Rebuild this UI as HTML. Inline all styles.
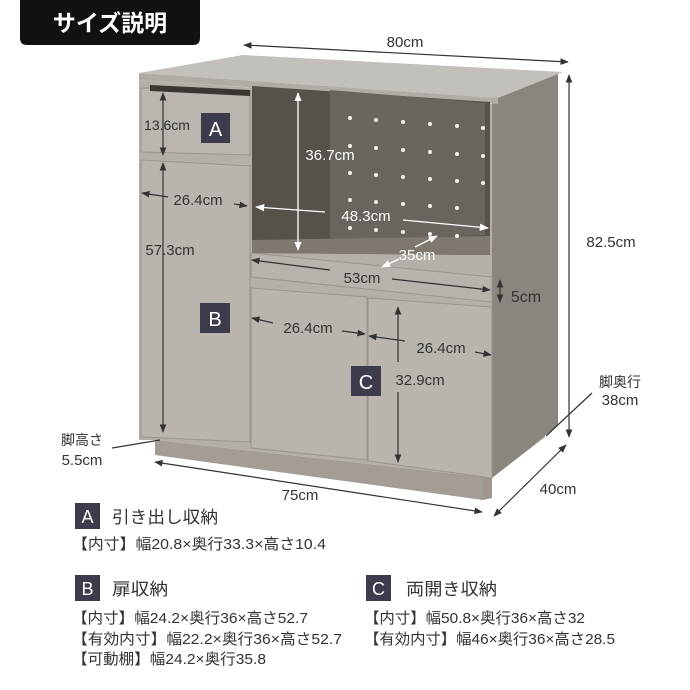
<!DOCTYPE html>
<html><head><meta charset="utf-8"><style>
body{margin:0;background:#fff;}
svg{display:block;font-family:"Liberation Sans","Noto Sans CJK JP",sans-serif;}
</style></head><body>
<svg width="690" height="690" viewBox="0 0 690 690" xmlns="http://www.w3.org/2000/svg">
<defs>
<marker id="ar" viewBox="0 0 10 10" refX="9" refY="5" markerWidth="7" markerHeight="7" orient="auto-start-reverse"><path d="M0,1 L10,5 L0,9 z" fill="#333"/></marker>
<marker id="aw" viewBox="0 0 10 10" refX="9" refY="5" markerWidth="7" markerHeight="7" orient="auto-start-reverse"><path d="M0,1 L10,5 L0,9 z" fill="#fff"/></marker>
</defs>
<path d="M20,0 H200 V38 Q200,45 193,45 H27 Q20,45 20,38 Z" fill="#111"/>
<text x="110" y="31" fill="#fff" font-size="23" font-weight="bold" text-anchor="middle">サイズ説明</text>

<polygon points="155,440 492,478 545,437 545,425 492,470 492,498 483,500 155,452" fill="#9d978f"/>
<polygon points="155,440 483,478 483,500 155,455" fill="#a39d96"/>
<polygon points="492,98 558,73 558,425 492,478" fill="#8b857f"/>
<polygon points="139,73 243,55 563,72 498,98" fill="#c3bfba"/>
<polygon points="139,73 498,98 498,104 139,80" fill="#b0aba5"/>
<polygon points="139,80 492,104 492,478 155,440 139,440" fill="#b4afa9"/>
<polygon points="252,86 490,102 490,255 252,253" fill="#57514b"/>
<polygon points="330,90 485,103 485,235 330,240" fill="#6a645e"/>
<polygon points="252,240 490,236 490,255 252,253" fill="#7e7871"/>
<g fill="#eee">
<circle cx="350" cy="118" r="2"/><circle cx="376" cy="120" r="2"/><circle cx="403" cy="122" r="2"/><circle cx="430" cy="124" r="2"/><circle cx="457" cy="126" r="2"/><circle cx="483" cy="128" r="2"/>
<circle cx="350" cy="146" r="2"/><circle cx="376" cy="148" r="2"/><circle cx="403" cy="150" r="2"/><circle cx="430" cy="152" r="2"/><circle cx="457" cy="154" r="2"/><circle cx="483" cy="156" r="2"/>
<circle cx="350" cy="173" r="2"/><circle cx="376" cy="175" r="2"/><circle cx="403" cy="177" r="2"/><circle cx="430" cy="179" r="2"/><circle cx="457" cy="181" r="2"/><circle cx="483" cy="183" r="2"/>
<circle cx="350" cy="200" r="2"/><circle cx="376" cy="202" r="2"/><circle cx="403" cy="204" r="2"/><circle cx="430" cy="206" r="2"/><circle cx="457" cy="208" r="2"/>
<circle cx="350" cy="228" r="2"/><circle cx="376" cy="230" r="2"/><circle cx="403" cy="232" r="2"/><circle cx="430" cy="234" r="2"/><circle cx="457" cy="236" r="2"/>
</g>
<polygon points="141,88 250,91 250,155 141,152" fill="#bab5af" stroke="#9a958f" stroke-width="1"/>
<polygon points="150,85 250,90 250,96 150,91" fill="#3a3632"/>
<polygon points="141,160 250,166 250,442 141,437" fill="#b9b4ae" stroke="#9a958f" stroke-width="1"/>
<polygon points="251,253 492,277 492,302 251,277" fill="#b7b2ac" stroke="#9a958f" stroke-width="1"/>
<polygon points="251,288 367,297 367,460 251,448" fill="#b9b4ae" stroke="#9a958f" stroke-width="1"/>
<polygon points="368,298 492,307 492,478 368,461" fill="#b9b4ae" stroke="#9a958f" stroke-width="1"/>

<rect x="201" y="113" width="29" height="30" fill="#3d3c4c"/><text x="215.5" y="136" fill="#fff" font-size="20" text-anchor="middle">A</text>
<rect x="200" y="303" width="30" height="30" fill="#3d3c4c"/><text x="215" y="326" fill="#fff" font-size="20" text-anchor="middle">B</text>
<rect x="351" y="366" width="30" height="30" fill="#3d3c4c"/><text x="366" y="389" fill="#fff" font-size="20" text-anchor="middle">C</text>

<g stroke="#333" stroke-width="1.2" fill="none">
<line x1="244" y1="45" x2="568" y2="62" marker-start="url(#ar)" marker-end="url(#ar)"/>
<line x1="569" y1="75" x2="569" y2="437" marker-start="url(#ar)" marker-end="url(#ar)"/>
<line x1="163" y1="93" x2="163" y2="155" marker-start="url(#ar)" marker-end="url(#ar)"/>
<line x1="163" y1="163" x2="163" y2="432" marker-start="url(#ar)" marker-end="url(#ar)"/>
<line x1="142" y1="193" x2="168" y2="197" marker-start="url(#ar)"/>
<line x1="234" y1="204" x2="247" y2="206" marker-end="url(#ar)"/>
<line x1="252" y1="260" x2="330" y2="270" marker-start="url(#ar)"/>
<line x1="392" y1="279" x2="490" y2="290" marker-end="url(#ar)"/>
<line x1="500" y1="280" x2="500" y2="302" marker-start="url(#ar)" marker-end="url(#ar)"/>
<line x1="252" y1="318" x2="273" y2="323" marker-start="url(#ar)"/>
<line x1="342" y1="331" x2="365" y2="334" marker-end="url(#ar)"/>
<line x1="369" y1="336" x2="405" y2="341" marker-start="url(#ar)"/>
<line x1="475" y1="352" x2="491" y2="355" marker-end="url(#ar)"/>
<line x1="398" y1="307" x2="398" y2="362" marker-start="url(#ar)"/>
<line x1="398" y1="392" x2="398" y2="462" marker-end="url(#ar)"/>
<line x1="155" y1="462" x2="482" y2="512" marker-start="url(#ar)" marker-end="url(#ar)"/>
<line x1="566" y1="445" x2="494" y2="516" marker-start="url(#ar)" marker-end="url(#ar)"/>
<line x1="592" y1="393" x2="546" y2="436"/>
<line x1="112" y1="448" x2="160" y2="440"/>
</g>
<g stroke="#fff" stroke-width="1.3" fill="none">
<line x1="298" y1="93" x2="298" y2="250" marker-start="url(#aw)" marker-end="url(#aw)"/>
<line x1="256" y1="207" x2="325" y2="212" marker-start="url(#aw)"/>
<line x1="403" y1="220" x2="488" y2="228" marker-end="url(#aw)"/>
<line x1="415" y1="247" x2="437" y2="236" marker-end="url(#aw)"/>
<line x1="399" y1="259" x2="382" y2="267" marker-end="url(#aw)"/>
</g>

<g font-size="15" fill="#333" text-anchor="middle">
<text x="405" y="47">80cm</text>
<text x="611" y="247">82.5cm</text>
<text x="167" y="130" font-size="14">13.6cm</text>
<text x="198" y="205">26.4cm</text>
<text x="170" y="255">57.3cm</text>
<text x="362" y="283">53cm</text>
<text x="526" y="302" font-size="16">5cm</text>
<text x="308" y="333">26.4cm</text>
<text x="441" y="353">26.4cm</text>
<text x="420" y="385">32.9cm</text>
<text x="300" y="500">75cm</text>
<text x="558" y="494">40cm</text>
<text x="620" y="387" font-size="14">脚奥行</text>
<text x="620" y="405">38cm</text>
<text x="82" y="445" font-size="14">脚高さ</text>
<text x="82" y="465">5.5cm</text>
</g>
<g font-size="15" fill="#fff" text-anchor="middle">
<text x="330" y="160">36.7cm</text>
<text x="366" y="221">48.3cm</text>
<text x="417" y="260">35cm</text>
</g>

<rect x="75" y="503" width="25" height="26" fill="#3d3c4c"/><text x="87.5" y="523" fill="#fff" font-size="18" text-anchor="middle">A</text>
<text x="112" y="523" font-size="17" fill="#333" textLength="106" lengthAdjust="spacingAndGlyphs">引き出し収納</text>
<text x="72" y="549" font-size="15" fill="#333" textLength="254" lengthAdjust="spacingAndGlyphs">【内寸】幅20.8×奥行33.3×高さ10.4</text>

<rect x="75" y="575" width="25" height="26" fill="#3d3c4c"/><text x="87.5" y="595" fill="#fff" font-size="18" text-anchor="middle">B</text>
<text x="112" y="595" font-size="17" fill="#333" textLength="56" lengthAdjust="spacingAndGlyphs">扉収納</text>
<text x="72" y="623" font-size="15" fill="#333" textLength="236" lengthAdjust="spacingAndGlyphs">【内寸】幅24.2×奥行36×高さ52.7</text>
<text x="72" y="644" font-size="15" fill="#333" textLength="270" lengthAdjust="spacingAndGlyphs">【有効内寸】幅22.2×奥行36×高さ52.7</text>
<text x="72" y="664" font-size="15" fill="#333" textLength="194" lengthAdjust="spacingAndGlyphs">【可動棚】幅24.2×奥行35.8</text>

<rect x="366" y="575" width="25" height="26" fill="#3d3c4c"/><text x="378.5" y="595" fill="#fff" font-size="18" text-anchor="middle">C</text>
<text x="406" y="595" font-size="17" fill="#333" textLength="91" lengthAdjust="spacingAndGlyphs">両開き収納</text>
<text x="364" y="623" font-size="15" fill="#333" textLength="221" lengthAdjust="spacingAndGlyphs">【内寸】幅50.8×奥行36×高さ32</text>
<text x="364" y="644" font-size="15" fill="#333" textLength="251" lengthAdjust="spacingAndGlyphs">【有効内寸】幅46×奥行36×高さ28.5</text>
</svg>
</body></html>
